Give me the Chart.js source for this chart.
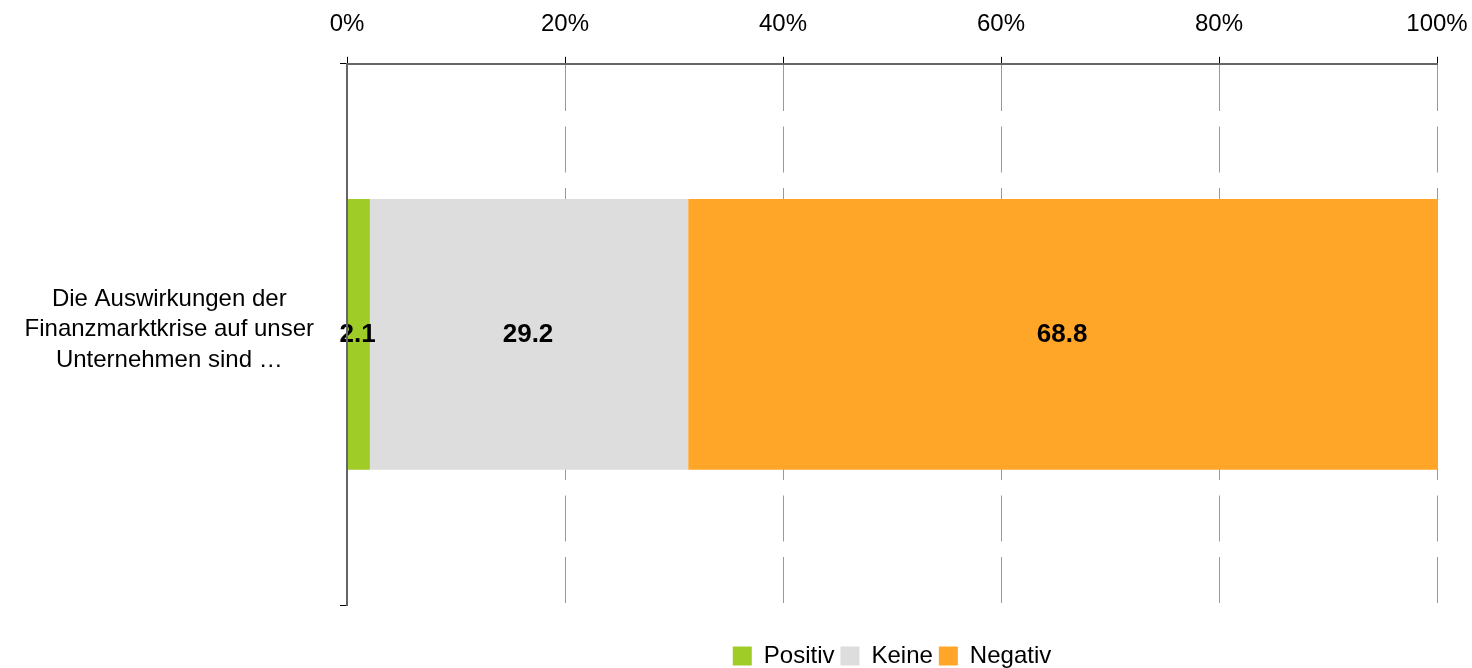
<!DOCTYPE html>
<html><head><meta charset="utf-8">
<script src="https://cdn.jsdelivr.net/npm/chart.js@4/dist/chart.umd.min.js"></script>
<style>html,body{margin:0;padding:0;background:#fff}#wrap{width:1472px;height:668px;position:relative}</style>
</head><body><div id="wrap"><canvas id="c"></canvas></div>
<script>
const categories = [["Die Auswirkungen der", "Finanzmarktkrise auf unser", "Unternehmen sind …"]];
const seriesNames = ["Positiv", "Keine", "Negativ"];
const positiv = [2.1];
const keine = [29.2];
const negativ = [68.8];
const xTickValues = [0, 20, 40, 60, 80, 100];
const seriesColors = ["#A0CC28", "#DDDDDD", "#FFA629"];

const FAMILY = '"Liberation Sans", Arial, sans-serif';
Chart.defaults.font.family = FAMILY;
Chart.defaults.color = '#000';

const barLabels = {
  id: 'barLabels',
  afterDatasetsDraw(chart) {
    const ctx = chart.ctx;
    chart.data.datasets.forEach((ds, di) => {
      const meta = chart.getDatasetMeta(di);
      meta.data.forEach((el, i) => {
        const v = ds.data[i];
        const p = el.getCenterPoint();
        ctx.save();
        ctx.font = 'bold 26px ' + FAMILY;
        ctx.fillStyle = '#000';
        ctx.textAlign = 'center';
        ctx.textBaseline = 'middle';
        ctx.fillText(v.toFixed(1), p.x - 1, p.y);
        ctx.restore();
      });
    });
  }
};

const dataSeries = [positiv, keine, negativ];

new Chart(document.getElementById('c'), {
  type: 'bar',
  data: {
    labels: categories,
    datasets: dataSeries.map((d, i) => ({
      label: seriesNames[i],
      data: d,
      backgroundColor: seriesColors[i],
      borderWidth: 0,
      barPercentage: 0.5,
      categoryPercentage: 1,
      clip: { left: 0, top: 0, right: 1, bottom: 0 }
    }))
  },
  options: {
    indexAxis: 'y',
    responsive: true,
    maintainAspectRatio: false,
    devicePixelRatio: 1,
    animation: false,
    layout: { padding: { top: -8, right: 35, bottom: -10, left: 0 } },
    scales: {
      x: {
        type: 'linear',
        position: 'top',
        stacked: true,
        min: 0,
        max: 100,
        afterBuildTicks: s => { s.ticks = xTickValues.map(v => ({ value: v })); },
        afterFit: s => { s.paddingLeft = 0; s.paddingRight = 0; },
        grid: { color: '#999', lineWidth: 1, tickLength: 7, tickColor: '#000', tickWidth: 1 },
        border: { color: '#666', width: 2, dash: [46, 15.5] },
        ticks: {
          padding: 18,
          font: { size: 24 },
          color: '#000',
          maxRotation: 0,
          autoSkip: false,
          callback: v => v + '%'
        }
      },
      y: {
        stacked: true,
        offset: true,
        grid: { offset: true, drawOnChartArea: false, drawTicks: true, tickLength: 7, tickColor: '#000', tickWidth: 1 },
        border: { color: '#666', width: 2, z: 1 },
        ticks: {
          crossAlign: 'center',
          padding: 26,
          labelOffset: -5,
          font: { size: 24, lineHeight: 1.27 },
          color: '#000'
        },
        afterFit: s => { s.width = 347; s.paddingTop = 0; s.paddingBottom = 0; }
      }
    },
    plugins: {
      tooltip: { enabled: false },
      legend: {
        position: 'bottom',
        fullSize: false,
        align: 'center',
        labels: {
          boxWidth: 19,
          boxHeight: 19,
          padding: 6,
          font: { size: 24 },
          color: '#000'
        },
        title: { display: true, text: ' ', font: { size: 1, lineHeight: 1 }, padding: { top: 0, bottom: 32 } }
      }
    }
  },
  plugins: [barLabels]
});
</script>
</body></html>
